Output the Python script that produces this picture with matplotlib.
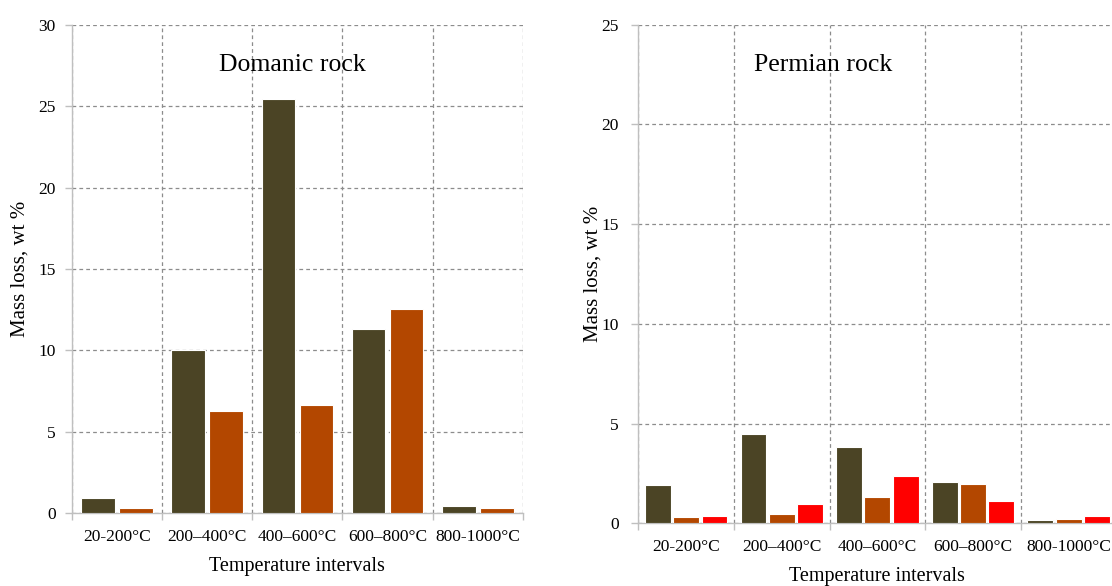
import matplotlib
matplotlib.use("Agg")
import matplotlib.pyplot as plt
import numpy as np

plt.rcParams["font.family"] = ["Liberation Serif", "DejaVu Serif"]

# Temperature intervals (x categories)
intervals = ["20-200°C", "200–400°C", "400–600°C", "600–800°C", "800-1000°C"]

# Domanic rock mass loss, wt %
domanic_a = [0.96, 10.04, 25.41, 11.33, 0.43]
domanic_b = [0.33, 6.31, 6.62, 12.54, 0.33]

# Permian rock mass loss, wt %
permian_a = [1.90, 4.48, 3.85, 2.08, 0.15]
permian_b = [0.30, 0.47, 1.32, 1.97, 0.22]
permian_c = [0.35, 0.95, 2.38, 1.13, 0.35]

OLIVE = "#4B4425"
RUST = "#B34700"
RED = "#FF0000"
AXIS_GRAY = "#BFBFBF"
GRID_GRAY = "#8C8C8C"

fig = plt.figure(figsize=(11.12, 5.86), dpi=100)
fig.patch.set_facecolor("white")


def style_axes(ax, ymax, ystep, title, title_x, title_y, ypad, ylabelpad):
    n = len(intervals)
    ax.set_xlim(-0.5, n - 0.5)
    ax.set_ylim(0, ymax)
    ax.set_yticks(np.arange(0, ymax + 0.1, ystep))
    ax.set_xticks(np.arange(n))
    ax.set_xticklabels(intervals)
    ax.set_xticks(np.arange(-0.5, n, 1.0), minor=True)
    ax.tick_params(axis="x", which="major", length=0, pad=11, labelsize=12.5)
    ax.tick_params(axis="x", which="minor", length=5, color=AXIS_GRAY, width=1)
    ax.tick_params(axis="y", length=5, color=AXIS_GRAY, width=1, pad=ypad,
                   labelsize=12.5)
    for side in ("top", "right"):
        ax.spines[side].set_visible(False)
    for side in ("left", "bottom"):
        ax.spines[side].set_color(AXIS_GRAY)
        ax.spines[side].set_linewidth(1)
    ax.grid(axis="y", which="major", color=GRID_GRAY, linestyle=(0, (3, 2.5)),
            linewidth=0.9)
    ax.grid(axis="x", which="minor", color=GRID_GRAY, linestyle=(0, (3, 2.5)),
            linewidth=0.9)
    ax.grid(axis="x", which="major", visible=False)
    ax.set_axisbelow(True)
    ax.set_xlabel("Temperature intervals", fontsize=14.5, labelpad=9)
    ax.set_ylabel("Mass loss, wt %", fontsize=15, labelpad=ylabelpad)
    ax.text(title_x, title_y, title, fontsize=18.5, ha="center", va="center")


# Left panel: Domanic rock
ax1 = fig.add_axes([0.0645, 0.124, 0.4058, 0.834])
x = np.arange(len(intervals))
w1 = 0.37
ax1.bar(x - 0.211, domanic_a, width=w1, color=OLIVE, edgecolor="white",
        linewidth=0.8, zorder=3)
ax1.bar(x + 0.211, domanic_b, width=w1, color=RUST, edgecolor="white",
        linewidth=0.8, zorder=3)
style_axes(ax1, 30, 5, "Domanic rock", 1.95, 27.5, ypad=6.5, ylabelpad=6)

# Right panel: Permian rock
ax2 = fig.add_axes([0.574, 0.107, 0.430, 0.851])
w2 = 0.27
ax2.bar(x - 0.296, permian_a, width=w2, color=OLIVE, edgecolor="white",
        linewidth=0.8, zorder=3)
ax2.bar(x, permian_b, width=w2, color=RUST, edgecolor="white",
        linewidth=0.8, zorder=3)
ax2.bar(x + 0.297, permian_c, width=w2, color=RED, edgecolor="white",
        linewidth=0.8, zorder=3)
style_axes(ax2, 25, 5, "Permian rock", 1.43, 23.0, ypad=9, ylabelpad=-1)

fig.savefig("out.png", dpi=100, facecolor="white")
